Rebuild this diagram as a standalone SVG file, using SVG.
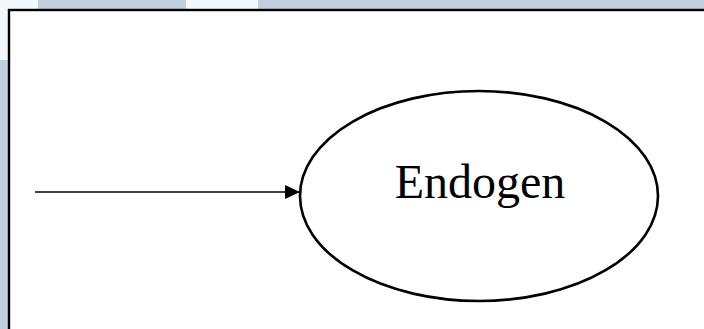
<svg xmlns="http://www.w3.org/2000/svg" width="704" height="329" viewBox="0 0 704 329">
<style>
.bg{fill:#c1cedb}
.frame{fill:#ffffff;stroke:#000;stroke-width:2.4}
.node{fill:#fff;stroke:#000;stroke-width:2.6}
.edge{stroke:#000;stroke-width:1.6;fill:none}
.lbl{font-family:"Liberation Serif",serif;font-size:48px;fill:#000;text-anchor:middle}
</style>
<defs>
<marker id="ah" markerWidth="15" markerHeight="14" refX="15" refY="7" orient="auto" markerUnits="userSpaceOnUse">
<path d="M0,0 L15,7 L0,14 Z" fill="#000"/>
</marker>
</defs>
<rect x="0" y="0" width="704" height="329" fill="#f4f7fa"/>
<rect class="bg" x="38" y="0" width="148" height="12"/>
<rect class="bg" x="258" y="0" width="446" height="12"/>
<rect class="bg" x="0" y="60" width="10" height="269"/>
<rect class="frame" x="9" y="10" width="700" height="325"/>
<g id="connectors">
<line class="edge" x1="35" y1="192" x2="300" y2="192" marker-end="url(#ah)"/>
</g>
<g id="endogen">
<ellipse class="node" cx="479" cy="196" rx="179" ry="105"/>
<text class="lbl" x="480" y="198">Endogen</text>
</g>
</svg>
